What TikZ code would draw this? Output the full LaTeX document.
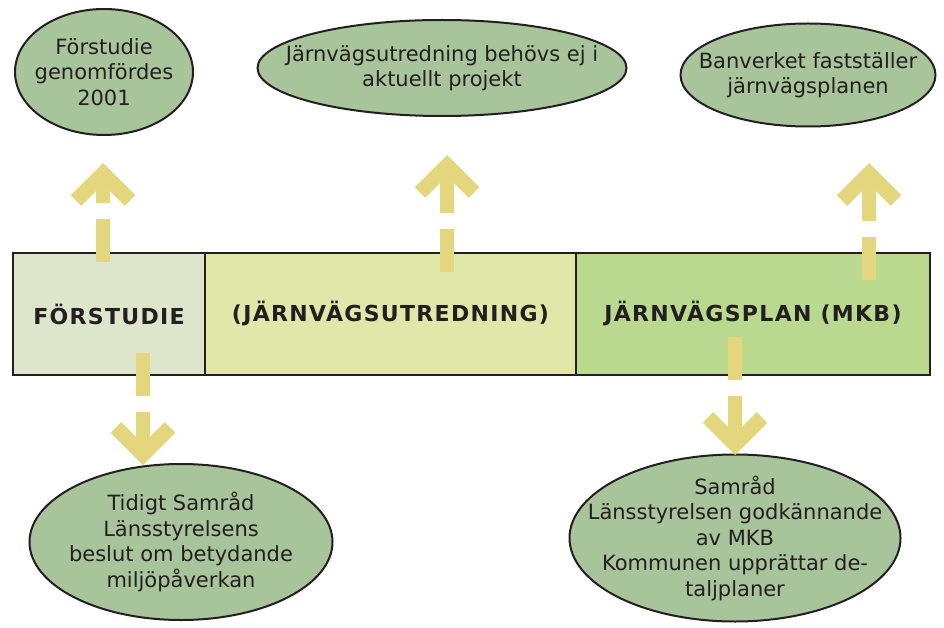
\documentclass[tikz,border=0pt]{standalone}
\usepackage{fontspec}
\setmainfont{DejaVu Sans}
\usetikzlibrary{arrows.meta,shapes.geometric,positioning,calc}

\definecolor{stageA}{HTML}{DDE5CB}
\definecolor{stageB}{HTML}{E1E6A9}
\definecolor{stageC}{HTML}{B9D98F}
\definecolor{noteg}{HTML}{A8C49B}
\definecolor{arrowc}{HTML}{E3D67D}
\definecolor{linec}{HTML}{231F20}

\begin{document}
\begin{tikzpicture}[x=1pt, y=-1pt,
    stage/.style={draw=linec, line width=2pt, minimum height=122pt, inner sep=0pt, outer sep=0pt, text=linec,
        font=\fontsize{22}{26}\selectfont\bfseries\addfontfeature{LetterSpace=6}},
    note/.style={ellipse, draw=linec, line width=2pt, fill=noteg, align=center, inner sep=-40pt, text=linec,
        font=\fontsize{21}{25.5}\selectfont},
    arr/.style={draw=arrowc, line width=14pt, dash pattern=on 43pt off 16pt,
        -{Straight Barb[length=27pt, width=54pt, line width=15pt, sharp]}}
]
\useasboundingbox (0,0) rectangle (944,628);

% tidslinje med skeden
\node[stage, fill=stageA, minimum width=192pt, anchor=west] (fs) at (13,314) {FÖRSTUDIE};
\node[stage, fill=stageB, minimum width=371pt, right=0pt of fs] (ju) {(JÄRNVÄGSUTREDNING)};
\node[stage, fill=stageC, minimum width=354pt, right=0pt of ju] (jp) {JÄRNVÄGSPLAN (MKB)};

% beslut och moment
\node[note, minimum width=178pt, minimum height=126pt] (e1) at (104,72) {Förstudie\\genomfördes\\2001};
\node[note, minimum width=369pt, minimum height=96pt] (e2) at (442,68) {Järnvägsutredning behövs ej i\\aktuellt projekt};
\node[note, minimum width=255pt, minimum height=103pt] (e3) at (808,75) {Banverket fastställer\\järnvägsplanen};
\node[note, minimum width=303pt, minimum height=156pt] (e4) at (181,542) {Tidigt Samråd\\Länsstyrelsens\\beslut om betydande\\miljöpåverkan};
\node[note, minimum width=331pt, minimum height=167pt] (e5) at (735,538) {Samråd\\Länsstyrelsen godkännande\\av MKB\\Kommunen upprättar de-\\taljplaner};

% pilspetsar
\coordinate (t1) at (103,163);
\coordinate (t2) at (447,155);
\coordinate (t3) at (869,163);
\coordinate (t4) at (143,465);
\coordinate (t5) at (735,455);

\draw[arr] ($(fs.north -| t1)+(0,9)$) -- (t1);
\draw[arr] ($(ju.north -| t2)+(0,19)$) -- (t2);
\draw[arr] ($(jp.north -| t3)+(0,27)$) -- (t3);
\draw[arr] ($(fs.south -| t4)+(0,-22)$) -- (t4);
\draw[arr] ($(jp.south -| t5)+(0,-38)$) -- (t5);
\end{tikzpicture}
\end{document}
